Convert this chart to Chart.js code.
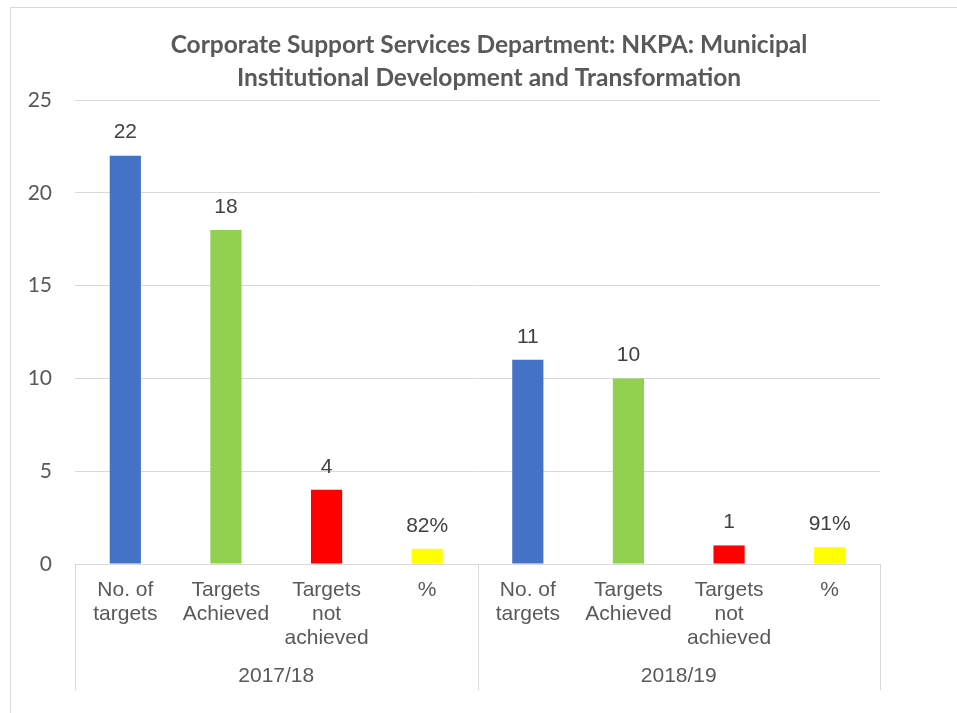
<!DOCTYPE html>
<html>
<head>
<meta charset="utf-8">
<script src="https://cdn.jsdelivr.net/npm/chart.js@4/dist/chart.umd.min.js"></script>
<style>
    html, body { margin: 0; padding: 0; background: #fff; }
    #chart { display: block; }
</style>
</head>
<body>
<canvas id="chart" width="957" height="713"></canvas>
<script>
const titleLines = [
    'Corporate Support Services Department: NKPA: Municipal',
    'Institutional Development and Transformation',
];
const groups = ['2017/18', '2018/19'];
const categories = [
    ['No. of', 'targets'],
    ['Targets', 'Achieved'],
    ['Targets', 'not', 'achieved'],
    ['%'],
];
const values2017 = [22, 18, 4, 0.82];
const values2018 = [11, 10, 1, 0.91];
const isPercent = [false, false, false, true];
const barColors = ['#4472C4', '#92D050', '#FF0000', '#FFFF00'];
const yTicks = [0, 5, 10, 15, 20, 25];

const labels = groups.flatMap(() => categories);
const values = values2017.concat(values2018);
const colors = groups.flatMap(() => barColors);
const percentFlags = groups.flatMap(() => isPercent);

const lineColor = '#d9d9d9';
const textColor = '#595959';

const extras = {
    id: 'extras',
    beforeDraw(chart) {
        const ctx = chart.ctx;
        ctx.save();
        // outer chart border
        ctx.strokeStyle = lineColor;
        ctx.lineWidth = 1;
        ctx.strokeRect(10.5, 7.5, 1000, 1000);
        // title
        ctx.fillStyle = textColor;
        ctx.font = 'bold 24.5px Lato';
        ctx.textAlign = 'center';
        ctx.textBaseline = 'middle';
        ctx.fillText(titleLines[0], 489, 45);
        ctx.fillText(titleLines[1], 489, 78);
        ctx.restore();
    },
    afterDraw(chart) {
        const ctx = chart.ctx;
        const x = chart.scales.x;
        const area = chart.chartArea;
        const per = categories.length;
        ctx.save();

        // group separators under the axis
        const seps = [area.left];
        for (let g = 1; g < groups.length; g++) {
            seps.push((x.getPixelForValue(g * per - 1) + x.getPixelForValue(g * per)) / 2);
        }
        seps.push(area.right);
        ctx.strokeStyle = lineColor;
        ctx.lineWidth = 1;
        seps.forEach(sx => {
            const px = Math.round(sx) + 0.5;
            ctx.beginPath();
            ctx.moveTo(px, area.bottom);
            ctx.lineTo(px, 690);
            ctx.stroke();
        });

        // group labels
        ctx.fillStyle = textColor;
        ctx.font = '21px "Liberation Sans"';
        ctx.textAlign = 'center';
        ctx.textBaseline = 'middle';
        groups.forEach((g, i) => {
            const cx = (x.getPixelForValue(i * per) + x.getPixelForValue(i * per + per - 1)) / 2;
            ctx.fillText(g, cx, 676);
        });

        // data labels
        ctx.fillStyle = '#404040';
        const meta = chart.getDatasetMeta(0);
        meta.data.forEach((bar, i) => {
            const v = values[i];
            const txt = percentFlags[i] ? Math.round(v * 100) + '%' : String(v);
            ctx.fillText(txt, bar.x, bar.y - 23);
        });
        ctx.restore();
    }
};

new Chart(document.getElementById('chart'), {
    type: 'bar',
    data: {
        labels: labels,
        datasets: [{
            data: values,
            backgroundColor: colors,
            borderWidth: 0,
            categoryPercentage: 1,
            barPercentage: 0.31,
        }]
    },
    options: {
        responsive: false,
        animation: false,
        events: [],
        layout: {
            padding: { left: 10, right: 77, top: 100, bottom: 19 }
        },
        plugins: {
            legend: { display: false },
            title: { display: false },
            tooltip: { enabled: false },
        },
        scales: {
            x: {
                afterFit(scale) { scale.height = 130; },
                grid: { display: false, drawTicks: false },
                border: { display: true, color: lineColor },
                ticks: {
                    color: textColor,
                    padding: 14,
                    maxRotation: 0,
                    autoSkip: false,
                    font: { family: 'Liberation Sans', size: 21, lineHeight: 1.15 },
                },
            },
            y: {
                min: 0,
                max: 25,
                afterFit(scale) { scale.width = 65; },
                afterBuildTicks(scale) { scale.ticks = yTicks.map(v => ({ value: v })); },
                grid: { color: lineColor, drawTicks: false },
                border: { display: false },
                ticks: {
                    color: textColor,
                    padding: 23,
                    font: { family: 'Lato', size: 21 },
                },
            },
        },
    },
    plugins: [extras],
});
</script>
</body>
</html>
